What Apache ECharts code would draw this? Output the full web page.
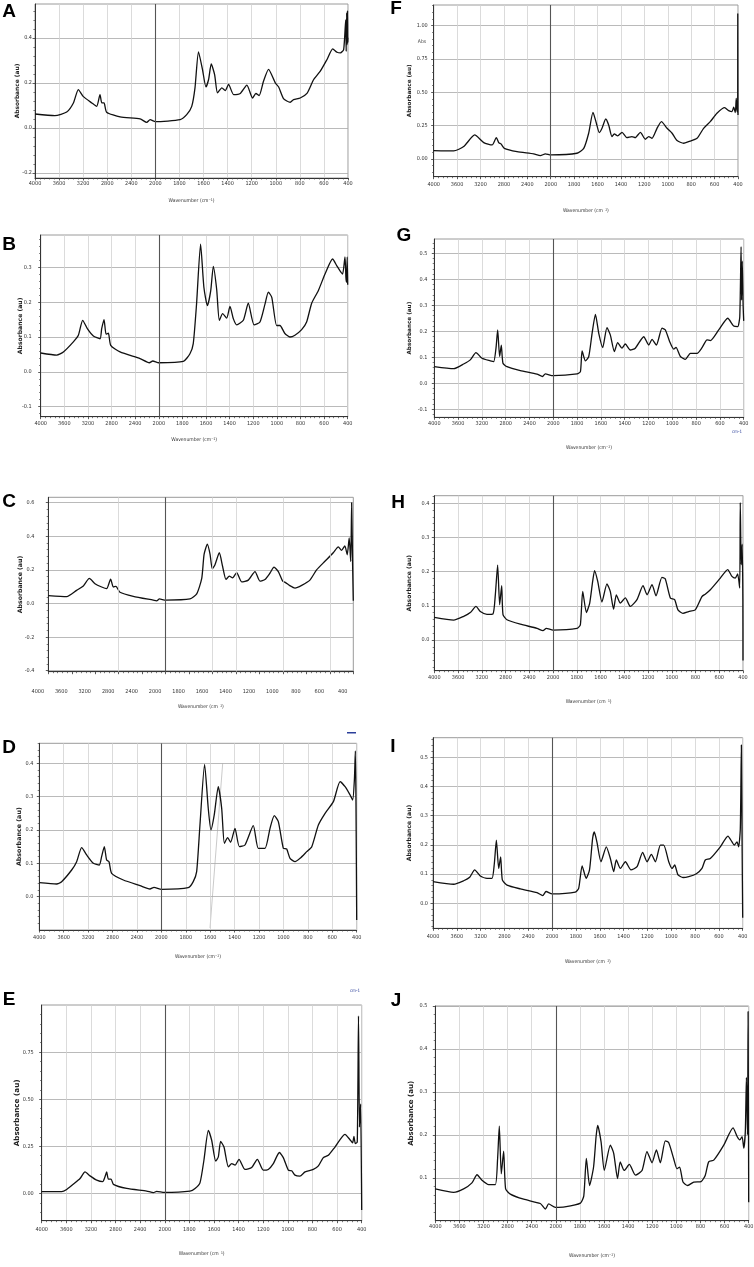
<!DOCTYPE html>
<html><head><meta charset="utf-8">
<script src="https://cdn.jsdelivr.net/npm/echarts@6/dist/echarts.min.js"></script>
<style>html,body{margin:0;padding:0;background:#fff}#c{width:754px;height:1267px}</style>
</head><body><div id="c"></div><script>
// ---- tick labels ----
const xTickLabels = [4000,3600,3200,2800,2400,2000,1800,1600,1400,1200,1000,800,600,400];
const panelLetters = ['A','B','C','D','E','F','G','H','I','J'];
const yTicksA = [-0.2,0,0.2,0.4];
const yTicksB = [-0.1,0,0.1,0.2,0.3];
const yTicksC = [-0.4,-0.2,0,0.2,0.4,0.6];
const yTicksD = [0,0.1,0.2,0.3,0.4];
const yTicksE = [0,0.25,0.5,0.75];
const yTicksF = [0,0.25,0.5,0.75,1.0];
const yTicksG = [-0.1,0,0.1,0.2,0.3,0.4,0.5];
const yTicksH = [0,0.1,0.2,0.3,0.4];
const yTicksI = [0,0.1,0.2,0.3,0.4,0.5];
const yTicksJ = [0.1,0.2,0.3,0.4,0.5];

// ---- spectra: [wavenumber cm-1, absorbance] ----
const specA = [[4000,0.062],[3670,0.055],[3473,0.071],[3362,0.111],[3280,0.17],[3200,0.14],[3056,0.111],[2975,0.096],[2920,0.148],[2890,0.111],[2853,0.111],[2810,0.07],[2586,0.049],[2253,0.04],[2143,0.025],[2088,0.037],[2000,0.028],[1794,0.037],[1740,0.059],[1698,0.096],[1671,0.178],[1642,0.338],[1609,0.26],[1580,0.182],[1558,0.215],[1536,0.284],[1508,0.237],[1484,0.156],[1448,0.178],[1420,0.166],[1392,0.193],[1350,0.148],[1295,0.153],[1240,0.19],[1193,0.133],[1165,0.153],[1138,0.144],[1102,0.207],[1060,0.26],[1004,0.2],[976,0.182],[934,0.129],[880,0.114],[852,0.126],[797,0.133],[741,0.153],[685,0.215],[630,0.252],[574,0.304],[527,0.351],[491,0.336],[463,0.333],[436,0.348],[419,0.48],[415,0.34],[411,0.51],[407,0.37],[404,0.52],[402,0.38],[400,0.4]];
const specB = [[4000,0.054],[3729,0.048],[3616,0.057],[3447,0.086],[3362,0.105],[3289,0.148],[3210,0.124],[3108,0.103],[2995,0.095],[2967,0.124],[2927,0.15],[2893,0.108],[2854,0.111],[2814,0.076],[2656,0.057],[2317,0.038],[2159,0.026],[2102,0.031],[2000,0.026],[1792,0.03],[1736,0.052],[1708,0.081],[1680,0.195],[1646,0.367],[1618,0.243],[1588,0.19],[1560,0.233],[1538,0.303],[1510,0.238],[1487,0.148],[1459,0.167],[1425,0.154],[1397,0.188],[1368,0.152],[1340,0.135],[1284,0.148],[1242,0.197],[1193,0.135],[1143,0.143],[1100,0.195],[1072,0.229],[1043,0.214],[1002,0.133],[974,0.133],[932,0.11],[889,0.1],[847,0.105],[790,0.121],[748,0.143],[705,0.197],[649,0.233],[592,0.281],[528,0.324],[493,0.305],[465,0.29],[443,0.281],[423,0.33],[415,0.27],[410,0.257],[404,0.33],[400,0.25]];
const specC = [[4000,0.047],[3687,0.041],[3517,0.078],[3403,0.104],[3301,0.149],[3204,0.118],[3090,0.098],[3005,0.088],[2937,0.145],[2892,0.098],[2846,0.102],[2778,0.067],[2551,0.043],[2210,0.02],[2153,0.016],[2106,0.027],[2000,0.02],[1792,0.027],[1735,0.057],[1692,0.149],[1672,0.292],[1644,0.353],[1621,0.292],[1602,0.206],[1579,0.231],[1542,0.302],[1514,0.22],[1485,0.143],[1457,0.163],[1429,0.153],[1394,0.184],[1352,0.129],[1295,0.139],[1238,0.19],[1196,0.133],[1153,0.143],[1111,0.18],[1076,0.216],[1039,0.19],[1002,0.133],[977,0.124],[945,0.108],[897,0.092],[840,0.108],[770,0.139],[713,0.2],[642,0.251],[571,0.302],[528,0.337],[500,0.316],[472,0.343],[452,0.29],[435,0.39],[422,0.25],[414,0.6],[406,0.23],[400,0.016]];
const specD = [[4000,0.042],[3716,0.038],[3634,0.045],[3470,0.08],[3388,0.105],[3306,0.147],[3224,0.125],[3115,0.1],[3017,0.095],[2979,0.12],[2935,0.15],[2897,0.11],[2858,0.105],[2815,0.07],[2623,0.05],[2350,0.033],[2187,0.023],[2121,0.028],[2000,0.022],[1780,0.027],[1739,0.045],[1711,0.075],[1684,0.215],[1646,0.397],[1616,0.265],[1594,0.2],[1567,0.245],[1534,0.33],[1506,0.265],[1484,0.16],[1457,0.177],[1433,0.163],[1397,0.205],[1361,0.15],[1315,0.155],[1247,0.213],[1206,0.145],[1151,0.145],[1110,0.205],[1075,0.243],[1042,0.225],[1001,0.145],[974,0.143],[946,0.115],[905,0.105],[864,0.115],[809,0.135],[768,0.15],[714,0.215],[659,0.25],[591,0.285],[536,0.345],[495,0.33],[454,0.305],[433,0.29],[419,0.35],[411,0.437],[406,0.285],[400,-0.07]];
const specE = [[4000,0.009],[3675,0.009],[3594,0.021],[3458,0.056],[3377,0.079],[3296,0.114],[3215,0.093],[3106,0.07],[3009,0.062],[2971,0.088],[2944,0.114],[2917,0.076],[2873,0.076],[2835,0.048],[2619,0.026],[2294,0.012],[2185,0.004],[2131,0.011],[2007,0.005],[1795,0.012],[1754,0.026],[1714,0.056],[1682,0.176],[1646,0.335],[1619,0.282],[1586,0.171],[1565,0.194],[1546,0.276],[1519,0.246],[1483,0.141],[1456,0.158],[1429,0.15],[1397,0.181],[1348,0.127],[1294,0.137],[1248,0.181],[1200,0.123],[1159,0.127],[1118,0.158],[1069,0.217],[1037,0.19],[996,0.123],[969,0.12],[942,0.097],[902,0.092],[860,0.114],[793,0.127],[752,0.146],[712,0.19],[671,0.202],[617,0.246],[536,0.313],[495,0.285],[474,0.268],[463,0.303],[452,0.264],[436,0.273],[426,0.942],[418,0.352],[409,0.475],[400,-0.088]];
const specF = [[4000,0.063],[3658,0.06],[3487,0.093],[3300,0.18],[3145,0.123],[3002,0.105],[2929,0.16],[2889,0.123],[2850,0.113],[2793,0.08],[2576,0.055],[2291,0.038],[2177,0.025],[2092,0.038],[2000,0.03],[1776,0.043],[1718,0.08],[1676,0.193],[1639,0.35],[1610,0.268],[1585,0.198],[1562,0.23],[1530,0.3],[1505,0.255],[1477,0.168],[1457,0.188],[1428,0.173],[1391,0.2],[1349,0.16],[1306,0.168],[1278,0.16],[1234,0.2],[1192,0.148],[1163,0.168],[1135,0.155],[1092,0.23],[1054,0.28],[1006,0.23],[963,0.193],[921,0.138],[864,0.118],[822,0.13],[750,0.155],[694,0.23],[637,0.28],[580,0.343],[514,0.385],[480,0.363],[451,0.355],[437,0.388],[423,0.348],[415,0.455],[409,0.368],[403,0.35],[402,1.09],[401,0.62],[400,0.33]];
const specG = [[4000,0.064],[3675,0.056],[3507,0.074],[3395,0.09],[3300,0.118],[3198,0.096],[3058,0.086],[3002,0.083],[2963,0.135],[2935,0.205],[2902,0.103],[2874,0.147],[2846,0.077],[2778,0.064],[2554,0.049],[2274,0.035],[2180,0.026],[2135,0.036],[2004,0.029],[1800,0.036],[1772,0.045],[1758,0.124],[1730,0.086],[1702,0.103],[1674,0.192],[1646,0.265],[1618,0.192],[1585,0.137],[1549,0.214],[1521,0.186],[1487,0.122],[1459,0.156],[1423,0.135],[1395,0.151],[1353,0.128],[1311,0.135],[1240,0.179],[1198,0.147],[1170,0.169],[1134,0.147],[1086,0.212],[1058,0.205],[1022,0.16],[988,0.131],[969,0.138],[932,0.103],[890,0.092],[848,0.115],[792,0.115],[750,0.137],[708,0.167],[680,0.164],[610,0.205],[534,0.25],[484,0.22],[450,0.218],[433,0.256],[422,0.526],[418,0.32],[412,0.47],[405,0.3],[400,0.24]];
const specH = [[4000,0.066],[3674,0.058],[3505,0.069],[3394,0.08],[3298,0.098],[3225,0.083],[3113,0.075],[3012,0.076],[2972,0.132],[2933,0.219],[2899,0.103],[2865,0.159],[2843,0.074],[2776,0.059],[2551,0.046],[2270,0.034],[2169,0.027],[2113,0.034],[2000,0.029],[1798,0.034],[1770,0.044],[1750,0.142],[1719,0.08],[1691,0.108],[1666,0.172],[1650,0.203],[1624,0.172],[1588,0.111],[1546,0.164],[1518,0.142],[1490,0.09],[1467,0.132],[1433,0.108],[1391,0.123],[1349,0.098],[1293,0.118],[1242,0.159],[1208,0.132],[1166,0.162],[1133,0.129],[1083,0.183],[1055,0.179],[1012,0.123],[976,0.118],[948,0.088],[906,0.078],[858,0.083],[802,0.088],[746,0.127],[718,0.134],[675,0.147],[591,0.181],[529,0.206],[493,0.186],[465,0.181],[445,0.193],[428,0.152],[423,0.402],[415,0.22],[407,0.28],[401,0.12],[400,-0.06]];
const specI = [[4000,0.074],[3653,0.065],[3485,0.077],[3384,0.089],[3300,0.114],[3205,0.093],[3093,0.085],[3009,0.085],[2970,0.136],[2936,0.216],[2897,0.119],[2864,0.159],[2836,0.08],[2757,0.062],[2533,0.049],[2253,0.036],[2158,0.026],[2102,0.04],[2000,0.032],[1805,0.038],[1777,0.051],[1748,0.128],[1714,0.085],[1686,0.114],[1660,0.222],[1646,0.244],[1624,0.21],[1590,0.142],[1545,0.193],[1511,0.153],[1483,0.108],[1461,0.148],[1427,0.119],[1385,0.142],[1338,0.114],[1287,0.125],[1240,0.174],[1203,0.142],[1167,0.167],[1133,0.142],[1091,0.199],[1063,0.199],[1021,0.142],[993,0.119],[971,0.131],[943,0.097],[901,0.088],[853,0.091],[789,0.101],[742,0.119],[714,0.148],[672,0.153],[588,0.193],[524,0.23],[490,0.21],[471,0.199],[448,0.21],[434,0.193],[420,0.256],[411,0.542],[405,0.193],[400,-0.05]];
const specJ = [[4000,0.074],[3696,0.066],[3530,0.074],[3392,0.088],[3308,0.107],[3225,0.094],[3115,0.084],[3004,0.084],[2966,0.145],[2938,0.22],[2905,0.109],[2866,0.162],[2833,0.074],[2755,0.062],[2534,0.05],[2258,0.04],[2174,0.027],[2119,0.039],[2008,0.031],[1926,0.032],[1796,0.041],[1768,0.058],[1747,0.145],[1720,0.082],[1687,0.125],[1666,0.196],[1653,0.222],[1625,0.184],[1598,0.117],[1548,0.176],[1520,0.157],[1488,0.098],[1466,0.137],[1433,0.117],[1390,0.131],[1340,0.106],[1285,0.117],[1244,0.161],[1202,0.135],[1166,0.165],[1133,0.135],[1092,0.186],[1064,0.182],[1023,0.145],[995,0.121],[973,0.125],[945,0.09],[906,0.082],[856,0.09],[795,0.091],[760,0.106],[732,0.137],[690,0.141],[607,0.176],[530,0.216],[496,0.196],[474,0.188],[455,0.196],[441,0.169],[428,0.208],[419,0.334],[410,0.2],[405,0.487],[400,0.043]];

// ---- layout (positions / styles) ----
const layout = [
 {spec:specA, ticks:yTicksA, dec:1, min:-0.222, max:0.55, g:[35,4,313,174], lx:[9,12], yl:{m:3,gap:15,fs:5.9}, xl:{m:3,gap:20}},
 {spec:specB, ticks:yTicksB, dec:1, min:-0.129, max:0.393, g:[40.7,235,307,181.7], lx:[9,245], yl:{m:9,gap:17,fs:6.1}, xl:{m:4,gap:21}},
 {spec:specC, ticks:yTicksC, dec:1, min:-0.406, max:0.632, g:[48.3,497.3,305,174.4], lx:[9,502], yl:{m:14,gap:25,fs:6.2}, xl:{m:17,gap:33,shift:true}, partialGrid:[3,7,8,10,12]},
 {spec:specD, ticks:yTicksD, dec:1, min:-0.1, max:0.46, g:[39.3,743.3,317.4,186.7], lx:[9,748], yl:{m:6,gap:17,fs:6.35}, xl:{m:5,gap:24}},
 {spec:specE, ticks:yTicksE, dec:2, min:-0.145, max:1.0, g:[41.7,1005,320,215.7], lx:[9,1000], yl:{m:8,gap:21,fs:7.2}, xl:{m:6,gap:31}},
 {spec:specF, ticks:yTicksF, dec:2, min:-0.133, max:1.155, g:[433.7,5,304.3,171.7], lx:[396,9], yl:{m:6,gap:21,fs:5.7}, xl:{m:5,gap:32}},
 {spec:specG, ticks:yTicksG, dec:1, min:-0.131, max:0.555, g:[434.3,239,309.4,178.3], lx:[404,236], yl:{m:7,gap:21.5,fs:5.7}, xl:{m:3,gap:28}},
 {spec:specH, ticks:yTicksH, dec:1, min:-0.09, max:0.422, g:[434.3,495.7,308.7,175], lx:[398,503], yl:{m:5,gap:22,fs:6.1}, xl:{m:4,gap:29}},
 {spec:specI, ticks:yTicksI, dec:1, min:-0.086, max:0.567, g:[433,737.7,309.7,190.6], lx:[393,747], yl:{m:5,gap:20.5,fs:6.1}, xl:{m:5,gap:31}},
 {spec:specJ, ticks:yTicksJ, dec:1, min:0, max:0.5, g:[435.3,1006,313.4,214.7], lx:[396,1001], yl:{m:8,gap:20.5,fs:7.0}, xl:{m:3,gap:33}}
];

const toPos = w => w >= 2000 ? (4000 - w) / 400 : 5 + (2000 - w) / 200;
const FONT = '"Liberation Sans", Arial, sans-serif';
const TITLEFONT = '"DejaVu Sans", "Liberation Sans", sans-serif';
const NARROW = '"Liberation Sans Narrow", "DejaVu Sans Condensed", "Liberation Sans", sans-serif';

// minor tick positions: 5 subdivisions of each major step, within the axis range
function minorTicks(ticks, min, max) {
  const step = (ticks[1] - ticks[0]) / 5, out = [];
  const start = Math.ceil((min - ticks[0]) / step - 1e-9);
  const end = Math.floor((max - ticks[0]) / step + 1e-9);
  for (let k = start; k <= end; k++) { if (k % 5 !== 0) out.push(+(ticks[0] + k * step).toFixed(6)); }
  return out;
}

const grids = [], xAxes = [], yAxes = [], series = [], graphics = [];
const n = layout.length;
layout.forEach((L, i) => {
  grids.push({left:L.g[0], top:L.g[1], width:L.g[2], height:L.g[3], show:true, borderColor:'#9a9a9a', borderWidth:1, containLabel:false, outerBoundsMode:'none'});
  xAxes.push({gridIndex:i, type:'value', min:0, max:13, interval:1,
    axisLine:{show:true, onZero:false, lineStyle:{color:'#333', width:1}},
    axisTick:{show:true, length:2.5, lineStyle:{color:'#333', width:0.8}},
    minorTick:{show:true, splitNumber:5, length:1.5, lineStyle:{color:'#444', width:0.7}},
    axisLabel:{formatter:p => String(xTickLabels[Math.round(p)]), fontSize:5.5, color:'#333', margin:L.xl.m, fontFamily:NARROW,
      padding: L.xl.shift ? [0,21,0,0] : 0},
    splitLine:{show:!L.partialGrid, lineStyle:{color:'#d2d2d2', width:0.8}},
    name:'Wavenumber (cm\u207B\u00B9)', nameLocation:'middle', nameGap:L.xl.gap, nameMoveOverlap:false,
    nameTextStyle:{fontSize:5, color:'#333', fontFamily:NARROW}});
  yAxes[i] = {gridIndex:i, type:'value', min:L.min, max:L.max,
    axisLine:{show:true, lineStyle:{color:'#333', width:1}},
    axisTick:{show:true, customValues:L.ticks, length:2.5, lineStyle:{color:'#333', width:0.8}},
    axisLabel:{customValues:L.ticks, formatter:v => v.toFixed(L.dec), fontSize:5.5, color:'#333', margin:L.yl.m, fontFamily:NARROW},
    splitLine:{show:true, lineStyle:{color:'#a8a8a8', width:0.8}},
    name:'Absorbance (au)', nameLocation:'middle', nameRotate:90, nameGap:L.yl.gap, nameMoveOverlap:false,
    nameTextStyle:{fontSize:L.yl.fs, fontWeight:'bold', color:'#222', fontFamily:TITLEFONT}};
  // overlay axis carrying only the minor ticks
  yAxes[n + i] = {gridIndex:i, type:'value', min:L.min, max:L.max, position:'left', offset:0,
    axisLine:{show:false}, splitLine:{show:false},
    axisTick:{show:true, customValues:minorTicks(L.ticks, L.min, L.max), length:1.6, lineStyle:{color:'#444', width:0.7}},
    axisLabel:{show:false}};
  const mlData = [{xAxis:5, lineStyle:{color:'#555', width:1.1}}];
  if (L.partialGrid) L.partialGrid.forEach(p => mlData.push({xAxis:p, lineStyle:{color:'#d2d2d2', width:0.8}}));
  series.push({type:'line', xAxisIndex:i, yAxisIndex:i, showSymbol:false, smooth:0.2, animation:false,
    data:L.spec.map(d => [toPos(d[0]), d[1]]),
    lineStyle:{color:'#111', width:1.3},
    markLine:{silent:true, symbol:'none', animation:false, label:{show:false}, lineStyle:{type:'solid'}, data:mlData}});
  graphics.push({type:'text', x:L.lx[0], y:L.lx[1], style:{text:panelLetters[i], font:'bold 19px ' + FONT, fill:'#000', textAlign:'center', textVerticalAlign:'middle'}});
});
// small extra marks from the original instrument printouts
graphics.push({type:'text', x:422, y:42, style:{text:'Abs', font:'5px ' + NARROW, fill:'#444', textAlign:'center', textVerticalAlign:'middle'}});
graphics.push({type:'text', x:737, y:432, style:{text:'cm-1', font:'4.5px ' + NARROW, fill:'#2b3f9a', textAlign:'center', textVerticalAlign:'middle'}});
graphics.push({type:'text', x:355, y:991, style:{text:'cm-1', font:'4.5px ' + NARROW, fill:'#2b3f9a', textAlign:'center', textVerticalAlign:'middle'}});
graphics.push({type:'rect', shape:{x:347, y:732, width:9, height:1.5}, style:{fill:'#2b3f9a'}});
graphics.push({type:'line', shape:{x1:210, y1:928, x2:222.7, y2:763.3}, style:{stroke:'#bdbdbd', lineWidth:0.8}});

const chart = echarts.init(document.getElementById('c'), null, {renderer:'canvas'});
chart.setOption({animation:false, backgroundColor:'#fff', grid:grids, xAxis:xAxes, yAxis:yAxes, series:series, graphic:graphics});
</script></body></html>
